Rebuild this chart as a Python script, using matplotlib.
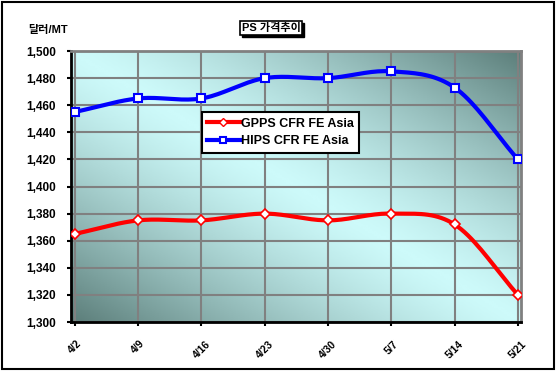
import numpy as np
import matplotlib.pyplot as plt
from matplotlib.patches import Rectangle
from matplotlib.colors import LinearSegmentedColormap

plt.rcParams['font.family'] = ['Liberation Sans', 'Noto Sans CJK KR', 'DejaVu Sans']

dates = ['4/2', '4/9', '4/16', '4/23', '4/30', '5/7', '5/14', '5/21']
gpps = [1365, 1375, 1375, 1380, 1375, 1380, 1372, 1320]
hips = [1455, 1465, 1465, 1480, 1480, 1485, 1473, 1420]
yticks = np.arange(1300, 1501, 20)


def smooth(x, y, n=20):
    # catmull-rom style curve, like excel's smoothed line
    x = np.asarray(x, float)
    y = np.asarray(y, float)
    px = np.concatenate([[2 * x[0] - x[1]], x, [2 * x[-1] - x[-2]]])
    py = np.concatenate([[2 * y[0] - y[1]], y, [2 * y[-1] - y[-2]]])
    xs, ys = [], []
    t = np.linspace(0, 1, n)
    for i in range(1, len(px) - 2):
        p0, p1, p2, p3 = py[i - 1], py[i], py[i + 1], py[i + 2]
        q0, q1, q2, q3 = px[i - 1], px[i], px[i + 1], px[i + 2]
        a = lambda v0, v1, v2, v3: 0.5 * ((2 * v1) + (-v0 + v2) * t
                                          + (2 * v0 - 5 * v1 + 4 * v2 - v3) * t ** 2
                                          + (-v0 + 3 * v1 - 3 * v2 + v3) * t ** 3)
        xs.append(a(q0, q1, q2, q3))
        ys.append(a(p0, p1, p2, p3))
    return np.concatenate(xs), np.concatenate(ys)


fig = plt.figure(figsize=(5.57, 3.76), dpi=100)
ax = fig.add_axes([0.1275, 0.1436, 0.808, 0.7207])

xpos = np.arange(len(dates))
x0, x1 = -0.06, len(dates) - 1 + 0.05

# gradient background: light along the top-left/bottom-right diagonal
u = np.linspace(0, 1, 200)
w = np.linspace(0, 1, 150)
U, W = np.meshgrid(u, w)
g = np.abs(U - W) ** 1.3
cmap = LinearSegmentedColormap.from_list('bg', ['#cdfafa', '#5c7e7a'])
ax.imshow(g, cmap=cmap, extent=[x0, x1, 1300, 1500], origin='upper',
          aspect='auto', zorder=0, vmin=0, vmax=1)
ax.set_xlim(x0, x1)
ax.set_ylim(1300, 1500)

ax.set_yticks(yticks)
ax.set_yticklabels(['{:,}'.format(v) for v in yticks], fontsize=8.5, fontweight='bold')
ax.set_xticks(xpos)
ax.set_xticklabels(dates, rotation=45, fontsize=7.5, fontweight='bold', ha='center')
ax.tick_params(axis='x', pad=9, length=3, width=1.5)
ax.tick_params(axis='y', pad=8, length=3, width=1.5)
ax.grid(True, color='#808080', linewidth=1.5, zorder=1)
ax.set_axisbelow(True)

for side in ['left', 'bottom']:
    ax.spines[side].set_linewidth(2)
    ax.spines[side].set_color('black')
for side in ['top', 'right']:
    ax.spines[side].set_linewidth(2)
    ax.spines[side].set_color('#808080')

sx, sy = smooth(xpos, gpps)
ax.plot(sx, sy, color='red', linewidth=3, zorder=3)
ax.plot(xpos, gpps, linestyle='none', marker='D', markersize=5,
        markerfacecolor='white', markeredgecolor='red', markeredgewidth=1.2, zorder=4)
sx, sy = smooth(xpos, hips)
ax.plot(sx, sy, color='blue', linewidth=3, zorder=3)
ax.plot(xpos, hips, linestyle='none', marker='s', markersize=5.5,
        markerfacecolor='white', markeredgecolor='blue', markeredgewidth=1.5, zorder=4)

h1 = plt.Line2D([], [], color='red', linewidth=3, marker='D', markersize=4,
                markerfacecolor='white', markeredgecolor='red')
h2 = plt.Line2D([], [], color='blue', linewidth=3, marker='s', markersize=5,
                markerfacecolor='white', markeredgecolor='blue', markeredgewidth=1.5)
leg = ax.legend([h1, h2], ['GPPS CFR FE Asia', 'HIPS CFR FE Asia'],
                loc='upper left', bbox_to_anchor=(0.29, 0.775), fancybox=False,
                framealpha=1, edgecolor='black', prop={'size': 9, 'weight': 'bold'},
                handlelength=2.6, handletextpad=0.1, borderpad=0.45, labelspacing=0.45,
                borderaxespad=0)
leg.get_frame().set_linewidth(1.5)

# title box with shadow
bx, by, bw, bh = 0.4309, 0.9069, 0.1113, 0.0372
fig.patches.append(Rectangle((bx + 0.0036, by - 0.0053), bw, bh, transform=fig.transFigure,
                             facecolor='black', edgecolor='black'))
fig.patches.append(Rectangle((bx, by), bw, bh, transform=fig.transFigure,
                             facecolor='white', edgecolor='black', linewidth=1.2))
fig.text(bx + bw / 2, by + bh / 2, 'PS 가격추이', ha='center', va='center', fontsize=8,
         fontweight='bold')

fig.text(0.05, 0.92, '달러/MT', ha='left', va='center', fontsize=8, fontweight='bold')

fig.patches.append(Rectangle((0.004, 0.018), 0.99, 0.976, transform=fig.transFigure,
                             fill=False, edgecolor='black', linewidth=1.5))

fig.savefig('out.png', dpi=100)
